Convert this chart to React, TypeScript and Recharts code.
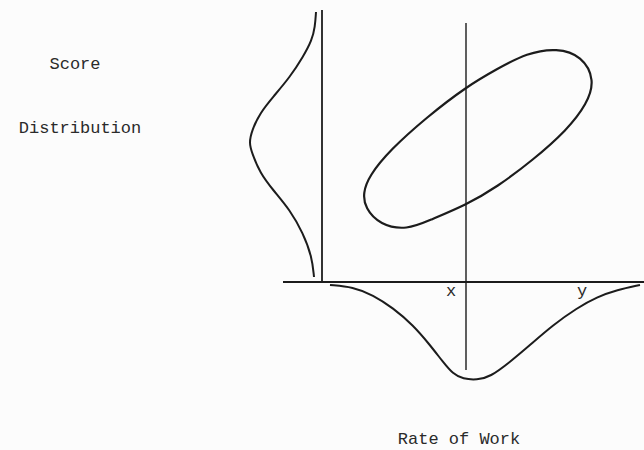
import { ComposedChart, Line, XAxis, YAxis, ReferenceLine, ReferenceDot } from "recharts";

// Units: 1 unit = 10px, origin where the score axis meets the rate-of-work axis
const scoreCurve = [
  { x: -0.6, y: 27.0 }, { x: -0.7, y: 25.5 }, { x: -1.0, y: 24.2 }, { x: -1.9, y: 22.5 },
  { x: -3.2, y: 20.5 }, { x: -4.9, y: 18.5 }, { x: -6.2, y: 16.9 }, { x: -7.0, y: 15.2 },
  { x: -7.3, y: 13.9 }, { x: -7.0, y: 12.9 }, { x: -6.2, y: 10.9 }, { x: -4.9, y: 9.2 },
  { x: -3.2, y: 7.2 }, { x: -1.9, y: 4.9 }, { x: -1.0, y: 2.5 }, { x: -0.8, y: 0.5 },
];

const rateCurve = [
  { x: 0.8, y: -0.3 }, { x: 3.1, y: -0.5 }, { x: 5.1, y: -1.3 }, { x: 7.1, y: -2.6 },
  { x: 9.1, y: -4.3 }, { x: 10.8, y: -6.3 }, { x: 12.1, y: -8.0 }, { x: 13.1, y: -9.2 },
  { x: 14.1, y: -9.7 }, { x: 15.5, y: -9.8 }, { x: 16.8, y: -9.5 }, { x: 18.8, y: -8.0 },
  { x: 20.8, y: -6.3 }, { x: 23.1, y: -4.3 }, { x: 25.5, y: -2.6 }, { x: 27.5, y: -1.5 },
  { x: 29.5, y: -0.8 }, { x: 31.8, y: -0.3 },
];

// scatter outline, traced once around (closed by the curve)
const scatterOutline = [
  { x: 17.5, y: 9.5 }, { x: 14.4, y: 7.7 }, { x: 10.8, y: 6.2 }, { x: 8.5, y: 5.2 },
  { x: 5.8, y: 5.7 }, { x: 4.3, y: 7.4 }, { x: 4.1, y: 8.9 }, { x: 4.7, y: 10.6 },
  { x: 6.8, y: 13.2 }, { x: 10.5, y: 16.5 }, { x: 14.4, y: 19.5 }, { x: 17.5, y: 21.3 },
  { x: 20.5, y: 22.9 }, { x: 23.5, y: 23.4 }, { x: 26.0, y: 22.6 }, { x: 27.3, y: 20.2 },
  { x: 26.5, y: 17.8 }, { x: 24.5, y: 15.2 }, { x: 21.1, y: 12.2 },
];

const markX = 14.4;
const axisTop = 27.2;
const axisLeft = -3.9;
const axisRight = 32.2;
const markTop = 25.9;
const markBottom = -8.8;

const labels = [
  { text: "Score", x: -24.7, y: 21.9 },
  { text: "Distribution", x: -24.2, y: 15.5 },
  { text: "Rate of Work", x: 13.7, y: -15.6 },
  { text: "x", x: 12.9, y: -0.8 },
  { text: "y", x: 26.0, y: -0.8 },
];

const ink = "#1c1c1c";
const font = "'Liberation Mono', 'DejaVu Sans Mono', monospace";

export default function App() {
  return (
    <div style={{ position: "absolute", left: 0, top: 0, width: 644, height: 450, background: "#fcfcfc" }}>
      <ComposedChart width={644} height={450} margin={{ top: 0, right: 0, bottom: 0, left: 0 }}>
        <XAxis type="number" dataKey="x" domain={[-32.2, 32.2]} allowDataOverflow hide />
        <YAxis type="number" dataKey="y" domain={[-16.8, 28.2]} allowDataOverflow hide />
        {/* score axis */}
        <ReferenceLine segment={[{ x: 0, y: 0 }, { x: 0, y: axisTop }]} stroke={ink} strokeWidth={1.8} ifOverflow="visible" />
        {/* rate of work axis */}
        <ReferenceLine segment={[{ x: axisLeft, y: 0 }, { x: axisRight, y: 0 }]} stroke={ink} strokeWidth={1.8} ifOverflow="visible" />
        {/* x marker */}
        <ReferenceLine segment={[{ x: markX, y: markBottom }, { x: markX, y: markTop }]} stroke={ink} strokeWidth={1.4} ifOverflow="visible" />
        <Line data={scoreCurve} dataKey="y" type="basis" stroke={ink} strokeWidth={2} dot={false} activeDot={false} isAnimationActive={false} />
        <Line data={rateCurve} dataKey="y" type="basis" stroke={ink} strokeWidth={2} dot={false} activeDot={false} isAnimationActive={false} />
        <Line data={scatterOutline} dataKey="y" type="basisClosed" stroke={ink} strokeWidth={2.2} dot={false} activeDot={false} isAnimationActive={false} />
        {labels.map((l) => (
          <ReferenceDot
            key={l.text}
            x={l.x}
            y={l.y}
            r={0}
            stroke="none"
            ifOverflow="visible"
            label={{ value: l.text, position: "center", fill: "#2a2a2a", fontSize: 17, fontFamily: font }}
          />
        ))}
      </ComposedChart>
    </div>
  );
}
